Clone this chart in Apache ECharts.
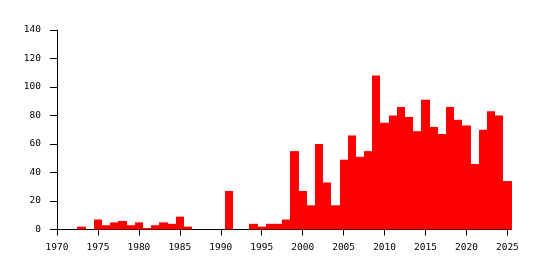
<!DOCTYPE html>
<html>
<head>
<meta charset="utf-8">
<script src="https://cdn.jsdelivr.net/npm/echarts@6/dist/echarts.min.js"></script>
<style>
  html, body { margin: 0; padding: 0; background: #fff; }
  #chart { width: 543px; height: 270px; }
</style>
</head>
<body>
<div id="chart"></div>
<script>
var years = [1970, 1971, 1972, 1973, 1974, 1975, 1976, 1977, 1978, 1979,
  1980, 1981, 1982, 1983, 1984, 1985, 1986, 1987, 1988, 1989,
  1990, 1991, 1992, 1993, 1994, 1995, 1996, 1997, 1998, 1999,
  2000, 2001, 2002, 2003, 2004, 2005, 2006, 2007, 2008, 2009,
  2010, 2011, 2012, 2013, 2014, 2015, 2016, 2017, 2018, 2019,
  2020, 2021, 2022, 2023, 2024, 2025]
var counts = [0, 0, 0, 2, 0, 7, 3, 5, 6, 3,
  5, 1, 3, 5, 4, 9, 2, 0, 0, 0,
  0, 27, 0, 0, 4, 2, 4, 4, 7, 55,
  27, 17, 60, 33, 17, 49, 66, 51, 55, 108,
  75, 80, 86, 79, 69, 91, 72, 67, 86, 77,
  73, 46, 70, 83, 80, 34]
var xTicks = [1970, 1975, 1980, 1985, 1990, 1995, 2000, 2005, 2010, 2015, 2020, 2025]

var barData = []
years.forEach(function (y, i) {
  barData.push([y, counts[i]])
})

var labelFont = {
  color: '#000',
  fontFamily: 'DejaVu Sans Mono',
  fontSize: 9.5,
  formatter: function (v) { return String(v) }
}

var myChart = echarts.init(document.getElementById('chart'))
myChart.setOption({
  animation: false,
  grid: { left: 57, right: 31.5, top: 30, bottom: 40.5 },
  xAxis: {
    type: 'value',
    min: 1970,
    max: 2025.5,
    axisLine: { lineStyle: { color: '#000', width: 1 } },
    axisTick: { length: 6, lineStyle: { color: '#000' }, customValues: xTicks },
    axisLabel: Object.assign({ margin: 13, customValues: xTicks }, labelFont),
    splitLine: { show: false }
  },
  yAxis: {
    type: 'value',
    min: 0,
    max: 140,
    interval: 20,
    axisLine: { show: true, lineStyle: { color: '#000', width: 1 } },
    axisTick: { show: true, length: 7, lineStyle: { color: '#000' } },
    axisLabel: Object.assign({ margin: 16 }, labelFont),
    splitLine: { show: false }
  },
  series: [{
    type: 'custom',
    data: barData,
    renderItem: function (params, api) {
      var year = api.value(0)
      var val = api.value(1)
      if (!val) return
      var p0 = api.coord([year - 0.5, val])
      var p1 = api.coord([year + 0.5, 0])
      var x0 = Math.round(p0[0])
      var x1 = Math.round(p1[0])
      return {
        type: 'rect',
        shape: { x: x0, y: p0[1], width: x1 - x0, height: p1[1] - p0[1] },
        style: { fill: '#ff0000' }
      }
    }
  }]
})
</script>
</body>
</html>
